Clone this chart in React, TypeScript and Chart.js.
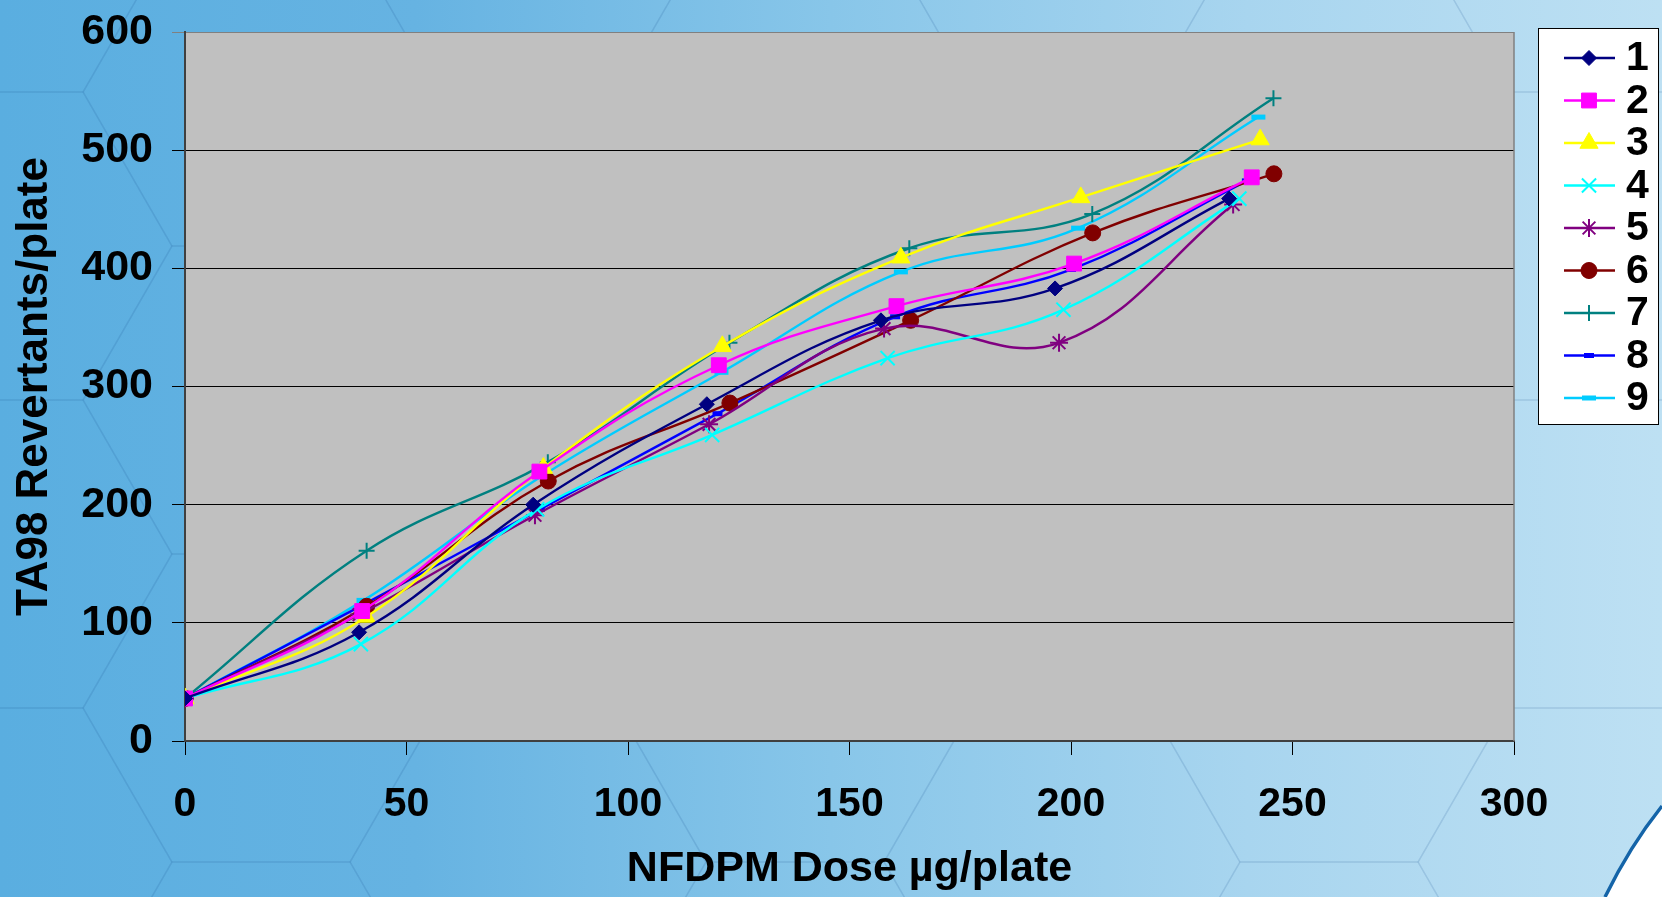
import React, { useEffect, useRef } from 'react';
import { Chart, registerables } from 'chart.js';
import { drawPoint } from 'chart.js/helpers';

Chart.register(...registerables);

// ---- data ----
const seriesLabels = ['1', '2', '3', '4', '5', '6', '7', '8', '9'];

const dose1 = [0, 39.3, 78.6, 117.8, 157.1, 196.4, 235.7];
const rev1 = [36, 92, 200, 285, 356, 383, 459];
const dose2 = [0, 40, 80, 120.5, 160.6, 200.7, 240.8];
const rev2 = [36, 110, 228, 318, 368, 404, 477];
const dose3 = [0, 40.9, 80.9, 121.3, 161.6, 202.2, 242.7];
const rev3 = [36, 105, 231, 334, 409, 460, 509];
const dose4 = [0, 39.7, 79.5, 119, 158.6, 198.3, 238];
const rev4 = [36, 82, 196, 259, 324, 365, 459];
const dose5 = [0, 39.3, 79, 118.3, 157.8, 197.3, 236.6];
const rev5 = [36, 107, 191, 268, 349, 337, 454];
const dose6 = [0, 41, 82, 123, 163.8, 204.9, 245.8];
const rev6 = [36, 114, 220, 286, 356, 430, 480];
const dose7 = [0, 41, 81.9, 122.9, 163.5, 204.8, 245.7];
const rev7 = [36, 161, 236, 337, 417, 446, 544];
const dose8 = [0, 40.6, 80.1, 120.2, 160.3, 200, 239.7];
const rev8 = [36, 116, 196, 277, 359, 399, 474];
const dose9 = [0, 40.3, 80.5, 121.1, 161.6, 201.6, 242.3];
const rev9 = [36, 119, 224, 312, 397, 434, 528];

const doses = [dose1, dose2, dose3, dose4, dose5, dose6, dose7, dose8, dose9];
const revs = [rev1, rev2, rev3, rev4, rev5, rev6, rev7, rev8, rev9];

const xTicks = [0, 50, 100, 150, 200, 250, 300];
const yTicks = [0, 100, 200, 300, 400, 500, 600];

const xTitle = 'NFDPM Dose µg/plate';
const yTitle = 'TA98 Revertants/plate';

// ---- styles ----
const colors = ['#000080', '#FF00FF', '#FFFF00', '#00FFFF', '#800080', '#800000', '#008080', '#0000FF', '#00CCFF'];
const pStyles = ['rectRot', 'rect', 'triangle', 'crossRot', 'star', 'circle', 'cross', 'line', 'line'];
const pRadius = [7.5, 10.5, 10.5, 10, 9, 8, 8, 5, 7];
const pBorder = [1, 1, 1, 2, 2, 1, 2, 5, 5];

const FONT = '"Liberation Sans", Arial, Helvetica, sans-serif';

function drawHexes(ctx: CanvasRenderingContext2D) {
  const s = 178;
  const h = 308;
  ctx.save();
  ctx.strokeStyle = 'rgba(20, 80, 140, 0.08)';
  ctx.lineWidth = 1.5;
  for (let k = -1; k < 9; k++) {
    const cx = -6 + 267 * k;
    const off = k % 2 !== 0 ? -154 : 0;
    for (let m = -1; m < 5; m++) {
      const cy = 246 + off + h * m;
      ctx.beginPath();
      for (let v = 0; v <= 6; v++) {
        const a = (Math.PI / 3) * v;
        const px = cx + s * Math.cos(a);
        const py = cy + s * Math.sin(a);
        if (v === 0) ctx.moveTo(px, py);
        else ctx.lineTo(px, py);
      }
      ctx.stroke();
    }
  }
  ctx.restore();
}

const decorPlugin = {
  id: 'decor',
  beforeDraw(chart: any) {
    const { ctx, chartArea } = chart;
    drawHexes(ctx);
    ctx.save();
    // bottom-right swoosh
    ctx.beginPath();
    ctx.moveTo(1662, 806);
    ctx.quadraticCurveTo(1630, 846, 1605, 897);
    ctx.lineTo(1662, 897);
    ctx.closePath();
    ctx.fillStyle = '#FFFFFF';
    ctx.fill();
    ctx.beginPath();
    ctx.moveTo(1662, 806);
    ctx.quadraticCurveTo(1630, 846, 1605, 897);
    ctx.strokeStyle = '#1464a8';
    ctx.lineWidth = 3.5;
    ctx.stroke();
    // plot background
    ctx.fillStyle = '#C0C0C0';
    ctx.fillRect(chartArea.left, chartArea.top, chartArea.right - chartArea.left, chartArea.bottom - chartArea.top);
    ctx.restore();
  },
  afterDraw(chart: any) {
    const { ctx, chartArea } = chart;
    ctx.save();
    // right frame
    ctx.strokeStyle = '#808080';
    ctx.lineWidth = 1.5;
    ctx.beginPath();
    ctx.moveTo(chartArea.right, chartArea.top);
    ctx.lineTo(chartArea.right, chartArea.bottom);
    ctx.stroke();

    // legend
    ctx.fillStyle = '#FFFFFF';
    ctx.fillRect(1538, 28, 121, 397);
    ctx.strokeStyle = '#000';
    ctx.lineWidth = 1;
    ctx.strokeRect(1538.5, 28.5, 120, 396);
    chart.data.datasets.forEach((ds: any, i: number) => {
      const y = 58 + i * 42.5;
      ctx.strokeStyle = ds.borderColor;
      ctx.lineWidth = 2.5;
      ctx.beginPath();
      ctx.moveTo(1564, y);
      ctx.lineTo(1615, y);
      ctx.stroke();
      ctx.fillStyle = ds.pointBackgroundColor;
      ctx.strokeStyle = ds.pointBorderColor;
      ctx.lineWidth = ds.pointBorderWidth;
      drawPoint(ctx, { pointStyle: ds.pointStyle, radius: ds.pointRadius, borderWidth: ds.pointBorderWidth, rotation: 0 } as any, 1589, y);
      ctx.fillStyle = '#000';
      ctx.font = 'bold 41px ' + FONT;
      ctx.textBaseline = 'middle';
      ctx.textAlign = 'left';
      ctx.fillText(ds.label, 1626, y + 1);
    });
    ctx.restore();
  },
};

export default function App() {
  const ref = useRef<HTMLCanvasElement | null>(null);

  useEffect(() => {
    if (!ref.current) return;
    const datasets = seriesLabels.map((label, i) => ({
      label,
      data: doses[i].map((d, j) => ({ x: d, y: revs[i][j] })),
      borderColor: colors[i],
      backgroundColor: colors[i],
      borderWidth: 2.4,
      pointStyle: pStyles[i],
      pointRadius: pRadius[i],
      pointBackgroundColor: colors[i],
      pointBorderColor: colors[i],
      pointBorderWidth: pBorder[i],
      tension: 0.4,
      fill: false,
    }));

    const chart = new Chart(ref.current, {
      type: 'line',
      data: { datasets },
      plugins: [decorPlugin],
      options: {
        animation: false,
        responsive: false,
        devicePixelRatio: 1,
        layout: { padding: { top: 32, right: 148, left: 0, bottom: 0 } },
        plugins: { legend: { display: false }, tooltip: { enabled: false } },
        scales: {
          x: {
            type: 'linear',
            min: 0,
            max: 300,
            afterFit: (s: any) => { s.height = 156; s.paddingLeft = 0; s.paddingRight = 0; },
            afterBuildTicks: (s: any) => { s.ticks = xTicks.map((v) => ({ value: v })); },
            ticks: {
              color: '#000',
              font: { family: FONT, size: 41, weight: 'bold' },
              padding: 25,
              maxRotation: 0,
              autoSkip: false,
            },
            grid: { drawOnChartArea: false, drawTicks: true, tickLength: 14, color: '#000', lineWidth: 1 },
            border: { color: '#404040', width: 2 },
            title: {
              display: true,
              text: xTitle,
              color: '#000',
              font: { family: FONT, size: 43, weight: 'bold' },
              padding: { top: 0, bottom: 2 },
            },
          },
          y: {
            type: 'linear',
            min: 0,
            max: 600,
            afterFit: (s: any) => { s.width = 185; s.paddingTop = 0; s.paddingBottom = 0; },
            afterBuildTicks: (s: any) => { s.ticks = yTicks.map((v) => ({ value: v })); },
            ticks: {
              color: '#000',
              font: { family: FONT, size: 43, weight: 'bold' },
              padding: 19,
              autoSkip: false,
            },
            grid: {
              drawTicks: true,
              tickLength: 13,
              color: (c: any) => (c.tick && c.tick.value === 600 ? '#808080' : '#000'),
              lineWidth: 1,
            },
            border: { color: '#404040', width: 2 },
            title: {
              display: true,
              text: yTitle,
              color: '#000',
              font: { family: FONT, size: 44, weight: 'bold' },
              padding: { top: 8, bottom: 0 },
            },
          },
        },
      } as any,
    });
    return () => chart.destroy();
  }, []);

  return (
    <div
      style={{
        position: 'absolute',
        left: 0,
        top: 0,
        width: 1662,
        height: 897,
        overflow: 'hidden',
        background: 'linear-gradient(90deg, #5aaee0 0%, #66b3e2 25%, #88c6e9 50%, #a8d5ef 75%, #bde0f3 100%)',
      }}
    >
      <canvas ref={ref} width={1662} height={897} style={{ display: 'block' }} />
    </div>
  );
}
